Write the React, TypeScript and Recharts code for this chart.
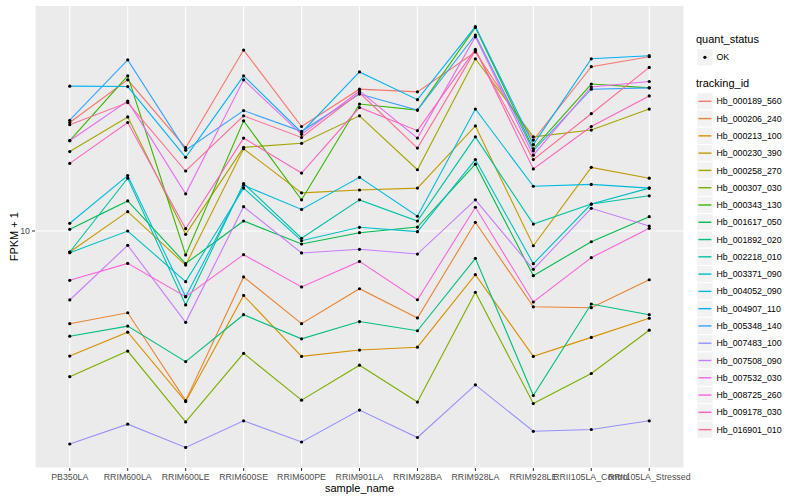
import React from 'react';
import { LineChart, Line, XAxis, YAxis, CartesianGrid, Label } from 'recharts';

const categories = [
  'PB350LA', 'RRIM600LA', 'RRIM600LE', 'RRIM600SE', 'RRIM600PE', 'RRIM901LA',
  'RRIM928BA', 'RRIM928LA', 'RRIM928LE', 'RRII105LA_Control', 'RRII105LA_Stressed',
];

const trackingIds = [
  'Hb_000189_560', 'Hb_000206_240', 'Hb_000213_100', 'Hb_000230_390', 'Hb_000258_270',
  'Hb_000307_030', 'Hb_000343_130', 'Hb_001617_050', 'Hb_001892_020', 'Hb_002218_010',
  'Hb_003371_090', 'Hb_004052_090', 'Hb_004907_110', 'Hb_005348_140', 'Hb_007483_100',
  'Hb_007508_090', 'Hb_007532_030', 'Hb_008725_260', 'Hb_009178_030', 'Hb_016901_010',
];

const seriesColors = [
  '#F8766D', '#EA8331', '#D89000', '#C09B00', '#A3A500',
  '#7CAE00', '#39B600', '#00BB4E', '#00BF7D', '#00C1A3',
  '#00BFC4', '#00BAE0', '#00B0F6', '#35A2FF', '#9590FF',
  '#C77CFF', '#E76BF3', '#FA62DB', '#FF62BC', '#FF6C91',
];

// FPKM + 1 values, one per sample
const hb_000189_560 = [23.0, 31.9, 18.95, 40.1, 22.3, 29.7, 29.1, 39.5, 20.1, 35.3, 38.1];
const hb_000206_240 = [4.91, 5.34, 2.72, 7.03, 4.91, 6.42, 5.13, 10.69, 5.59, 5.55, 6.88];
const hb_000213_100 = [3.83, 4.6, 2.7, 6.1, 3.82, 4.01, 4.1, 7.15, 3.82, 4.42, 5.12];
const hb_000230_390 = [8.51, 11.6, 7.7, 18.8, 13.4, 13.7, 13.9, 22.4, 8.93, 16.3, 15.0];
const hb_000258_270 = [18.4, 24.0, 9.75, 19.0, 19.6, 24.2, 16.0, 37.5, 20.6, 21.7, 25.5];
const hb_000307_030 = [3.27, 3.98, 2.31, 3.91, 2.73, 3.57, 2.69, 6.25, 2.66, 3.35, 4.67];
const hb_000343_130 = [20.0, 32.9, 8.32, 23.3, 12.7, 26.5, 25.3, 47.7, 18.8, 30.9, 30.0];
const hb_001617_050 = [10.13, 12.6, 7.79, 10.8, 9.05, 9.87, 10.31, 16.7, 7.1, 9.21, 11.16];
const hb_001892_020 = [4.46, 4.82, 3.67, 5.26, 4.37, 4.99, 4.65, 8.11, 2.83, 5.71, 5.26];
const hb_002218_010 = [8.51, 15.0, 5.67, 14.4, 9.46, 12.7, 10.8, 20.6, 10.55, 12.3, 13.1];
const hb_003371_090 = [8.47, 10.0, 6.78, 13.9, 9.28, 10.29, 9.95, 17.3, 7.78, 12.3, 13.9];
const hb_004052_090 = [10.61, 15.3, 6.04, 14.2, 11.8, 15.1, 11.2, 25.5, 14.1, 14.3, 13.9];
const hb_004907_110 = [30.4, 30.3, 17.6, 32.9, 21.3, 33.9, 27.4, 48.0, 19.4, 37.5, 38.4];
const hb_005348_140 = [23.4, 37.2, 18.6, 25.2, 21.5, 28.6, 25.3, 45.0, 18.5, 29.7, 30.0];
const hb_007483_100 = [1.95, 2.27, 1.9, 2.33, 1.98, 2.53, 2.05, 3.07, 2.15, 2.18, 2.33];
const hb_007508_090 = [5.89, 8.96, 4.96, 12.05, 8.45, 8.69, 8.38, 12.7, 7.45, 11.9, 10.39];
const hb_007532_030 = [20.0, 27.1, 13.3, 31.9, 21.0, 29.3, 20.4, 44.4, 17.9, 30.2, 31.5];
const hb_008725_260 = [6.85, 7.8, 6.04, 8.34, 6.51, 7.92, 5.9, 12.0, 5.8, 8.15, 10.21];
const hb_009178_030 = [16.8, 23.0, 10.18, 20.4, 15.6, 25.8, 21.6, 40.3, 16.1, 22.3, 28.2];
const hb_016901_010 = [22.6, 26.8, 15.85, 24.2, 20.5, 28.9, 18.9, 40.0, 17.3, 24.6, 35.1];

const seriesValues = [
  hb_000189_560, hb_000206_240, hb_000213_100, hb_000230_390, hb_000258_270,
  hb_000307_030, hb_000343_130, hb_001617_050, hb_001892_020, hb_002218_010,
  hb_003371_090, hb_004052_090, hb_004907_110, hb_005348_140, hb_007483_100,
  hb_007508_090, hb_007532_030, hb_008725_260, hb_009178_030, hb_016901_010,
];

const yTicks = [10];
const yDomain = [1.622, 56.45];
const xTicks = categories.map((_, i) => i + 1);

const data = categories.map((name, i) => {
  const row: Record<string, number | string> = { x: i + 1, name };
  trackingIds.forEach((id, k) => {
    row[id] = seriesValues[k][i];
  });
  return row;
});

const FONT = '"Liberation Sans", Arial, Helvetica, sans-serif';

function YTitle() {
  return (
    <text
      x={18}
      y={236.7}
      transform="rotate(-90 18 236.7)"
      textAnchor="middle"
      fontSize={11}
      fill="#000000"
      fontFamily={FONT}
    >
      FPKM + 1
    </text>
  );
}

function XTitle() {
  return (
    <text x={359.5} y={492} textAnchor="middle" fontSize={11} fill="#000000" fontFamily={FONT}>
      sample_name
    </text>
  );
}

function LegendPanel() {
  const rowH = 17.28;
  const first = 101.3;
  return (
    <svg
      width={800}
      height={500}
      style={{ position: 'absolute', left: 0, top: 0, pointerEvents: 'none' }}
      fontFamily={FONT}
    >
      <text x={696} y={43} fontSize={11} fill="#000">quant_status</text>
      <rect x={696.8} y={48.7} width={16.2} height={17.28} fill="#F2F2F2" stroke="#FFFFFF" strokeWidth={1} />
      <circle cx={704.9} cy={57.3} r={1.6} fill="#000" />
      <text x={716.5} y={60.4} fontSize={8.8} fill="#000">OK</text>
      <text x={696} y={86.5} fontSize={11} fill="#000">tracking_id</text>
      {trackingIds.map((id, k) => {
        const cy = first + k * rowH;
        return (
          <g key={id}>
            <rect x={696.8} y={cy - rowH / 2} width={16.2} height={rowH} fill="#F2F2F2" stroke="#FFFFFF" strokeWidth={1} />
            <line x1={698.4} x2={711.4} y1={cy} y2={cy} stroke={seriesColors[k]} strokeWidth={1.4} />
            <text x={716.5} y={cy + 3.1} fontSize={8.8} fill="#000">{id}</text>
          </g>
        );
      })}
    </svg>
  );
}

export default function App() {
  return (
    <div style={{ position: 'absolute', left: 0, top: 0, width: 800, height: 500, background: '#FFFFFF' }}>
      <LineChart
        width={800}
        height={500}
        data={data}
        margin={{ top: 5.5, right: 116, bottom: 0, left: 0 }}
        style={{ fontFamily: FONT }}
      >
        <CartesianGrid fill="#EBEBEB" stroke="#FFFFFF" strokeWidth={1.1} />
        <XAxis
          dataKey="x"
          type="number"
          domain={[0.4, 11.6]}
          allowDataOverflow
          ticks={xTicks}
          interval={0}
          tickFormatter={(v: number) => categories[v - 1]}
          height={32}
          axisLine={false}
          tickSize={3}
          tickMargin={3}
          tickLine={{ stroke: '#333333' }}
          tick={{ fill: '#4D4D4D', fontSize: 8.8, fontFamily: FONT }}
          label={<Label content={<XTitle />} />}
        />
        <YAxis
          type="number"
          scale="log"
          domain={yDomain}
          allowDataOverflow
          ticks={yTicks}
          width={35}
          axisLine={false}
          tickSize={3}
          tickMargin={2}
          tickLine={{ stroke: '#333333' }}
          tick={{ fill: '#4D4D4D', fontSize: 8.8, fontFamily: FONT }}
          label={<Label content={<YTitle />} />}
        />
        {trackingIds.map((id, k) => (
          <Line
            key={id}
            dataKey={id}
            type="linear"
            stroke={seriesColors[k]}
            strokeWidth={1.1}
            dot={false}
            activeDot={false}
            isAnimationActive={false}
          />
        ))}
        {trackingIds.map((id) => (
          <Line
            key={id + '_pt'}
            dataKey={id}
            type="linear"
            stroke="none"
            dot={{ r: 1.6, fill: '#000000', stroke: 'none' }}
            activeDot={false}
            isAnimationActive={false}
            legendType="none"
          />
        ))}
      </LineChart>
      <LegendPanel />
    </div>
  );
}
